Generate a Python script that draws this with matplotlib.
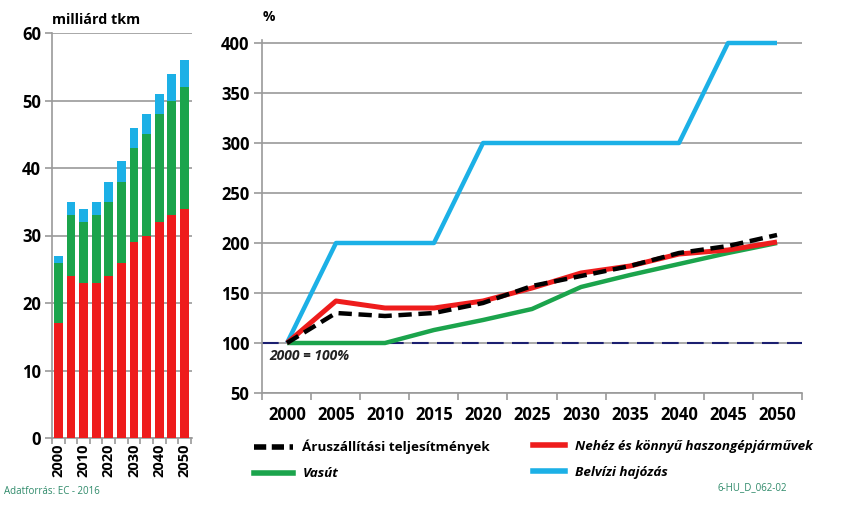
import matplotlib
matplotlib.use("Agg")
import matplotlib.pyplot as plt
import numpy as np
from matplotlib.lines import Line2D

plt.rcParams['font.family'] = ['Open Sans', 'DejaVu Sans']

# left chart: milliard tkm, stacked
bar_years = ['2000', '2005', '2010', '2015', '2020', '2025', '2030', '2035', '2040', '2045', '2050']
road = [17, 24, 23, 23, 24, 26, 29, 30, 32, 33, 34]
rail = [9, 9, 9, 10, 11, 12, 14, 15, 16, 17, 18]
water = [1, 2, 2, 2, 3, 3, 3, 3, 3, 4, 4]

# right chart: index, 2000 = 100%
years = ['2000', '2005', '2010', '2015', '2020', '2025', '2030', '2035', '2040', '2045', '2050']
total = [100, 130, 127, 130, 140, 157, 167, 177, 190, 197, 208]
truck = [100, 142, 135, 135, 142, 155, 170, 177, 189, 193, 201]
vasut = [100, 100, 100, 113, 123, 134, 156, 168, 179, 190, 200]
belviz = [100, 200, 200, 200, 300, 300, 300, 300, 300, 400, 400]

RED = '#ee1c1c'
GREEN = '#1ba44c'
BLUE = '#1cb0e6'
GRID = '#9a9a9a'

fig = plt.figure(figsize=(8.41, 5.05), dpi=100)

# ---- left stacked bars
ax1 = fig.add_axes([52/841, 1-438/505, 140/841, 405/505])
x = np.arange(len(bar_years))
ax1.bar(x, road, width=0.7, color=RED, zorder=3)
ax1.bar(x, rail, width=0.7, bottom=road, color=GREEN, zorder=3)
bot2 = np.array(road) + np.array(rail)
ax1.bar(x, water, width=0.7, bottom=bot2, color=BLUE, zorder=3)
ax1.set_xlim(-0.5, 10.6)
ax1.set_ylim(0, 60)
ax1.set_yticks(range(0, 61, 10))
ax1.grid(axis='y', color=GRID, lw=1.2, zorder=0)
ax1.set_xticks(x[::2])
ax1.set_xticklabels(bar_years[::2], rotation=90, fontsize=10.5, fontweight='bold')
ax1.set_xticks(np.arange(-0.5, 11, 1), minor=True)
ax1.tick_params(axis='x', which='major', length=0, pad=4)
ax1.tick_params(axis='x', which='minor', length=4, color=GRID, width=1.2)
ax1.tick_params(axis='y', length=5, color=GRID, width=1.2, labelsize=12, pad=3)
for lab in ax1.get_yticklabels():
    lab.set_fontweight('bold')
for s in ['top', 'right']:
    ax1.spines[s].set_visible(False)
for s in ['left', 'bottom']:
    ax1.spines[s].set_color(GRID)
    ax1.spines[s].set_linewidth(1.2)
ax1.text(0.0, 1.015, 'milliárd tkm', transform=ax1.transAxes, fontsize=10.3,
         fontweight='bold', va='bottom', ha='left')

# ---- right line chart
ax2 = fig.add_axes([262/841, 1-393/505, 540/841, 353/505])
xi = np.arange(len(years))
ax2.axhline(100, color='#1b1f70', lw=1.5, dashes=(8, 4), zorder=2)
ax2.plot(xi, vasut, color=GREEN, lw=3.2, zorder=3, solid_capstyle='butt')
ax2.plot(xi, belviz, color=BLUE, lw=3.2, zorder=3, solid_capstyle='butt')
ax2.plot(xi, truck, color=RED, lw=3.6, zorder=4, solid_capstyle='butt')
ax2.plot(xi, total, color='black', lw=3.2, dashes=(3, 1.5), zorder=5)
ax2.set_xlim(-0.51, 10.51)
ax2.set_ylim(50, 403)
ax2.set_yticks(range(50, 401, 50))
ax2.grid(axis='y', color=GRID, lw=1.2, zorder=0)
ax2.set_xticks(xi)
ax2.set_xticklabels(years, fontsize=12, fontweight='bold')
ax2.set_xticks(np.arange(-0.5, 11, 1), minor=True)
ax2.tick_params(axis='x', which='major', length=0, pad=9)
ax2.tick_params(axis='x', which='minor', length=5, color=GRID, width=1.2)
ax2.tick_params(axis='y', length=6, color=GRID, width=1.2, labelsize=12, pad=3)
for lab in ax2.get_yticklabels():
    lab.set_fontweight('bold')
for s in ['top', 'right']:
    ax2.spines[s].set_visible(False)
for s in ['left', 'bottom']:
    ax2.spines[s].set_color(GRID)
    ax2.spines[s].set_linewidth(1.2)
ax2.text(0.012, 1.045, '%', transform=ax2.transAxes, fontsize=10,
         fontweight='bold', va='bottom', ha='center')
ax2.text(-0.37, 87, '2000 = 100%', fontsize=10, fontstyle='italic',
         fontweight='bold', color='#222222', va='center', ha='left')

# legend, two columns placed separately
h_black = Line2D([], [], color='black', lw=4, dashes=(2.2, 1))
h_green = Line2D([], [], color=GREEN, lw=4)
h_red = Line2D([], [], color=RED, lw=4)
h_blue = Line2D([], [], color=BLUE, lw=4)
leg_kw = dict(loc='upper left', frameon=False,
              handletextpad=0.7, labelspacing=0.95, borderpad=0,
              borderaxespad=0, prop={'size': 9.7, 'weight': 'bold'})
leg1 = fig.legend([h_black, h_green], ['Áruszállítási teljesítmények', 'Vasút'],
                  bbox_to_anchor=(254/841, 1-440/505), handlelength=2.9, **leg_kw)
leg2 = fig.legend([h_red, h_blue], ['Nehéz és könnyű haszongépjárművek', 'Belvízi hajózás'],
                  bbox_to_anchor=(533/841, 1-440/505), handlelength=2.4, **leg_kw)
for i, t in enumerate(leg1.get_texts()):
    if i > 0:
        t.set_fontstyle('italic')
for t in leg2.get_texts():
    t.set_fontstyle('italic')

fig.text(4/841, 1-492/505, 'Adatforrás: EC - 2016', fontsize=7,
         color='#2f8a6a', va='center', ha='left')
fig.text(718/841, 1-488/505, '6-HU_D_062-02', fontsize=7,
         color='#2f8a6a', va='center', ha='left')

fig.savefig('out.png', dpi=100)
